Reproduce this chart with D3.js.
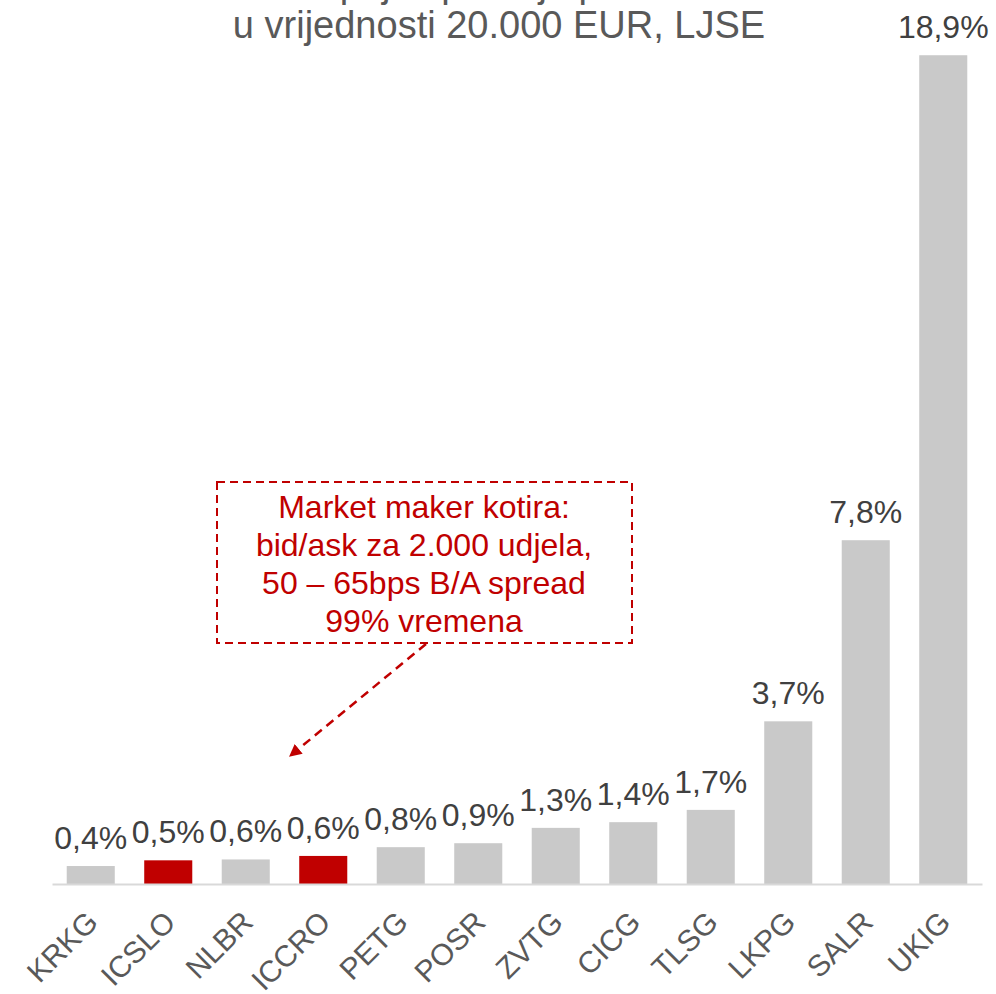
<!DOCTYPE html>
<html>
<head>
<meta charset="utf-8">
<script src="https://cdn.jsdelivr.net/npm/d3@7/dist/d3.min.js"></script>
<style>
  body { margin: 0; background: #fff; }
  svg { display: block; font-family: "Liberation Sans", Arial, sans-serif; }
</style>
</head>
<body>
<svg id="chart" width="996" height="994"></svg>
<script>
// data
let tickers = ["KRKG", "ICSLO", "NLBR", "ICCRO", "PETG", "POSR", "ZVTG", "CICG", "TLSG", "LKPG", "SALR", "UKIG"];
let spreads = [0.41, 0.54, 0.56, 0.64, 0.84, 0.93, 1.28, 1.41, 1.69, 3.71, 7.84, 18.9];
let spreadLabels = ["0,4%", "0,5%", "0,6%", "0,6%", "0,8%", "0,9%", "1,3%", "1,4%", "1,7%", "3,7%", "7,8%", "18,9%"];
let highlighted = ["ICSLO", "ICCRO"];
let titleLines = ["Trošak kupnje i prodaje paketa dionica", "u vrijednosti 20.000 EUR, LJSE"];
let noteLines = ["Market maker kotira:", "bid/ask za 2.000 udjela,", "50 \u2013 65bps B/A spread", "99% vremena"];

let width = 996, height = 994;
let baseY = 884;

let svg = d3.select("#chart");

let x = d3.scaleBand()
	.domain(tickers)
	.range([52, 982])
	.paddingInner(0.38)
	.paddingOuter(0.19);

let y = d3.scaleLinear()
	.domain([0, 20])
	.range([baseY, 7]);

// bars
svg.append("g")
	.selectAll("rect")
	.data(tickers)
	.enter().append("rect")
	.attr("x", function(d) { return x(d); })
	.attr("y", function(d, i) { return y(spreads[i]); })
	.attr("width", x.bandwidth())
	.attr("height", function(d, i) { return baseY - y(spreads[i]); })
	.attr("fill", function(d) { return highlighted.indexOf(d) >= 0 ? "#c00000" : "#c9c9c9"; });

// x axis
let xAxis = svg.append("g")
	.attr("transform", "translate(0," + baseY + ")")
	.call(d3.axisBottom(x).tickSize(0).tickPadding(0));
xAxis.select(".domain").attr("stroke", "#d9d9d9").attr("stroke-width", 2);
xAxis.selectAll(".tick text")
	.attr("fill", "#595959")
	.style("font-size", "30px")
	.attr("text-anchor", "end")
	.attr("dy", null)
	.attr("transform", "translate(9,40) rotate(-45)");

// value labels
svg.append("g")
	.selectAll("text")
	.data(tickers)
	.enter().append("text")
	.attr("x", function(d) { return x(d) + x.bandwidth()/2; })
	.attr("y", function(d, i) { return y(spreads[i]) - 17; })
	.attr("text-anchor", "middle")
	.attr("fill", "#404040")
	.style("font-size", "32px")
	.text(function(d, i) { return spreadLabels[i]; });

// title (first line runs off the top, as in the original)
svg.append("g")
	.selectAll("text")
	.data(titleLines)
	.enter().append("text")
	.attr("x", 499)
	.attr("y", function(d, i) { return -3 + i*41; })
	.attr("text-anchor", "middle")
	.attr("fill", "#595959")
	.style("font-size", "38px")
	.text(function(d) { return d; });

// annotation box
let note = svg.append("g");
note.append("rect")
	.attr("x", 217)
	.attr("y", 482)
	.attr("width", 415)
	.attr("height", 161)
	.attr("fill", "none")
	.attr("stroke", "#c00000")
	.attr("stroke-width", 2)
	.attr("stroke-dasharray", "8,5");

note.selectAll("text")
	.data(noteLines)
	.enter().append("text")
	.attr("x", 424)
	.attr("y", function(d, i) { return 518 + i*38; })
	.attr("text-anchor", "middle")
	.attr("fill", "#c00000")
	.style("font-size", "32px")
	.text(function(d) { return d; });

svg.append("defs").append("marker")
	.attr("id", "arrowhead")
	.attr("viewBox", "0 0 10 10")
	.attr("refX", 9)
	.attr("refY", 5)
	.attr("markerWidth", 5)
	.attr("markerHeight", 5)
	.attr("orient", "auto")
	.append("path")
	.attr("d", "M0,0 L10,5 L0,10 z")
	.attr("fill", "#c00000");

note.append("line")
	.attr("x1", 426)
	.attr("y1", 644)
	.attr("x2", 290)
	.attr("y2", 756)
	.attr("stroke", "#c00000")
	.attr("stroke-width", 2.5)
	.attr("stroke-dasharray", "9,6")
	.attr("marker-end", "url(#arrowhead)");
</script>
</body>
</html>
